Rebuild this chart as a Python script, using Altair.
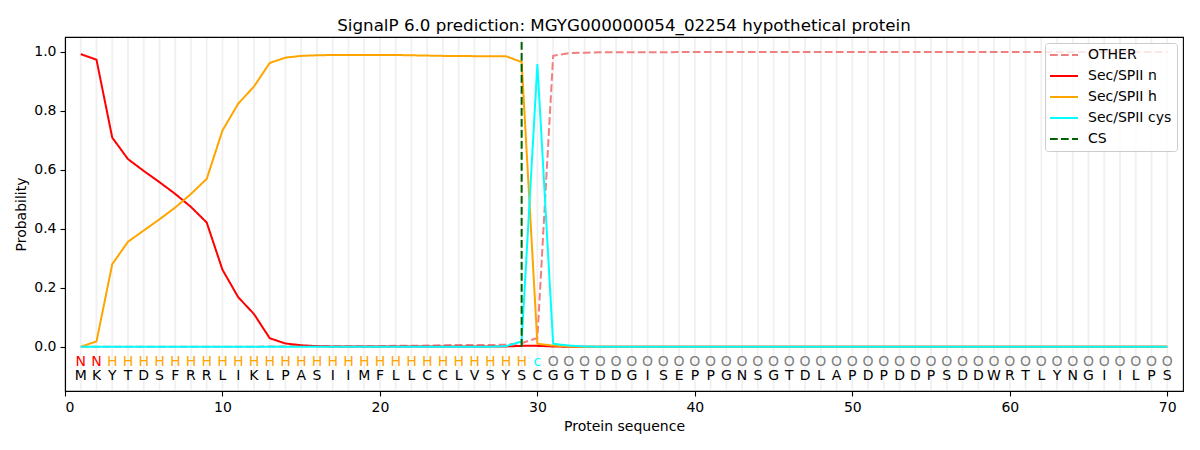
import altair as alt
import pandas as pd

# ---- data ----
positions = list(range(1, 71))
residues = list("MKYTDSFRRLIKLPASIIMFLLCCLVSYSCGGTDDGISEPPGNSGTDLAPDPDDPSDDWRTLYNGIILPS")
regions = list("NN" + "HHHHHHHHHHHHHHHHHHHHHHHHHHH" + "c" +
               "OOOOOOOOOOOOOOOOOOOOOOOOOOOOOOOOOOOOOOOO")

other = [0.000, 0.000, 0.000, 0.000, 0.000, 0.000, 0.000, 0.000, 0.000, 0.000,
         0.000, 0.000, 0.001, 0.001, 0.002, 0.002, 0.002, 0.002, 0.002, 0.002,
         0.003, 0.003, 0.004, 0.005, 0.006, 0.006, 0.006, 0.007, 0.012, 0.030,
         0.986, 0.995, 0.997, 0.998, 0.998, 0.998, 0.998, 0.998, 0.999, 0.999,
         0.999, 0.999, 0.999, 0.999, 0.999, 0.999, 0.999, 0.999, 0.999, 0.999,
         0.999, 0.999, 0.999, 0.999, 0.999, 0.999, 0.999, 0.999, 0.999, 0.999,
         0.999, 0.999, 0.999, 0.999, 0.999, 0.999, 0.999, 0.999, 0.999, 0.999]
sec_n = [0.992, 0.973, 0.709, 0.636, 0.596, 0.558, 0.518, 0.474, 0.421, 0.261,
         0.168, 0.111, 0.029, 0.011, 0.005, 0.002, 0.001, 0.001, 0.001, 0.001,
         0.001, 0.001, 0.001, 0.001, 0.001, 0.001, 0.001, 0.001, 0.003, 0.003,
         0.001, 0.000, 0.000, 0.000, 0.000, 0.000, 0.000, 0.000, 0.000, 0.000,
         0.000, 0.000, 0.000, 0.000, 0.000, 0.000, 0.000, 0.000, 0.000, 0.000,
         0.000, 0.000, 0.000, 0.000, 0.000, 0.000, 0.000, 0.000, 0.000, 0.000,
         0.000, 0.000, 0.000, 0.000, 0.000, 0.000, 0.000, 0.000, 0.000, 0.000]
sec_h = [0.000, 0.018, 0.280, 0.356, 0.394, 0.432, 0.472, 0.518, 0.569, 0.733,
         0.824, 0.882, 0.962, 0.980, 0.986, 0.988, 0.989, 0.989, 0.989, 0.989,
         0.989, 0.988, 0.987, 0.986, 0.986, 0.985, 0.985, 0.985, 0.965, 0.010,
         0.004, 0.001, 0.000, 0.000, 0.000, 0.000, 0.000, 0.000, 0.000, 0.000,
         0.000, 0.000, 0.000, 0.000, 0.000, 0.000, 0.000, 0.000, 0.000, 0.000,
         0.000, 0.000, 0.000, 0.000, 0.000, 0.000, 0.000, 0.000, 0.000, 0.000,
         0.000, 0.000, 0.000, 0.000, 0.000, 0.000, 0.000, 0.000, 0.000, 0.000]
sec_cys = [0.000, 0.000, 0.000, 0.000, 0.000, 0.000, 0.000, 0.000, 0.000, 0.000,
           0.000, 0.000, 0.000, 0.000, 0.000, 0.000, 0.000, 0.000, 0.000, 0.000,
           0.000, 0.000, 0.000, 0.000, 0.000, 0.000, 0.000, 0.002, 0.018, 0.958,
           0.010, 0.004, 0.001, 0.000, 0.000, 0.000, 0.000, 0.000, 0.000, 0.000,
           0.000, 0.000, 0.000, 0.000, 0.000, 0.000, 0.000, 0.000, 0.000, 0.000,
           0.000, 0.000, 0.000, 0.000, 0.000, 0.000, 0.000, 0.000, 0.000, 0.000,
           0.000, 0.000, 0.000, 0.000, 0.000, 0.000, 0.000, 0.000, 0.000, 0.000]
cs_position = 29
cs_top = 1.04

series_names = ["OTHER", "Sec/SPII n", "Sec/SPII h", "Sec/SPII cys", "CS"]
series_colors = ["#f08080", "#ff0000", "#ffa500", "#00ffff", "#006400"]
dash_long = [7.7, 3.3]
series_dashes = [dash_long, [1, 0], [1, 0], [1, 0], dash_long]

region_colors = {"N": "#ff0000", "H": "#ffa500", "c": "#00ffff", "O": "#808080"}

# ---- tables ----
rows = []
for name, vals in zip(series_names[:4], [other, sec_n, sec_h, sec_cys]):
    for p, v in zip(positions, vals):
        rows.append({"series": name, "pos": p, "prob": v})
lines_df = pd.DataFrame(rows)

cs_df = pd.DataFrame({"series": ["CS"], "pos": [cs_position], "y0": [0.0], "y1": [cs_top]})

REGION_ROW = -0.05
RESIDUE_ROW = -0.10
text_df = pd.DataFrame({
    "pos": positions,
    "region": regions,
    "residue": residues,
    "rcolor": [region_colors[r] for r in regions],
    "ry": [REGION_ROW] * len(positions),
    "sy": [RESIDUE_ROW] * len(positions),
})
grid_df = pd.DataFrame({"pos": positions})

W, H = 1118, 354
xscale = alt.Scale(domain=[0, 71], nice=False, zero=False)
yscale = alt.Scale(domain=[-0.15, 1.05], nice=False, zero=False)
xaxis = alt.Axis(values=list(range(0, 71, 10)), format="d", title="Protein sequence")
yaxis = alt.Axis(values=[0, 0.2, 0.4, 0.6, 0.8, 1.0], format=".1f", title="Probability")

# legend handle: a horizontal line segment, drawn 28px long with symbolSize 100
HANDLE = "M-1.4,0H4.2"

color_enc = alt.Color("series:N",
                      scale=alt.Scale(domain=series_names, range=series_colors),
                      legend=alt.Legend(title=None, symbolType=HANDLE),
                      sort=series_names)
dash_enc = alt.StrokeDash("series:N",
                          scale=alt.Scale(domain=series_names, range=series_dashes),
                          legend=alt.Legend(title=None, symbolType=HANDLE),
                          sort=series_names)

grid = alt.Chart(grid_df).mark_rule(color="#f0f0f0", strokeWidth=1.8).encode(
    x=alt.X("pos:Q", scale=xscale, axis=xaxis),
    y=alt.value(1),
    y2=alt.value(H - 1),
)

lines = alt.Chart(lines_df).mark_line(strokeWidth=2).encode(
    x=alt.X("pos:Q", scale=xscale, axis=xaxis),
    y=alt.Y("prob:Q", scale=yscale, axis=yaxis),
    color=color_enc,
    strokeDash=dash_enc,
)

cs = alt.Chart(cs_df).mark_rule(strokeWidth=2).encode(
    x=alt.X("pos:Q", scale=xscale),
    y=alt.Y("y0:Q", scale=yscale),
    y2="y1:Q",
    color=color_enc,
    strokeDash=dash_enc,
)

region_text = alt.Chart(text_df).mark_text(fontSize=14, baseline="middle").encode(
    x=alt.X("pos:Q", scale=xscale),
    y=alt.Y("ry:Q", scale=yscale),
    text="region:N",
    color=alt.Color("rcolor:N", scale=None),
)
residue_text = alt.Chart(text_df).mark_text(fontSize=14, baseline="middle", color="black").encode(
    x=alt.X("pos:Q", scale=xscale),
    y=alt.Y("sy:Q", scale=yscale),
    text="residue:N",
)

chart = alt.layer(grid, lines, cs, region_text, residue_text).properties(
    width=W,
    height=H,
    title=alt.Title("SignalP 6.0 prediction: MGYG000000054_02254 hypothetical protein",
                    fontSize=16.7, fontWeight="normal", color="black", offset=2),
    padding={"left": 6, "top": 10, "right": 5, "bottom": 5},
).configure(
    font="DejaVu Sans",
).configure_view(
    stroke="black", strokeWidth=1.1,
).configure_axis(
    domainColor="black", domainWidth=1.1, tickColor="black", tickSize=5, tickWidth=1.1,
    labelFontSize=14, labelColor="black", labelPadding=4,
    titleFontSize=14, titleFontWeight="normal", titleColor="black", titlePadding=5,
    grid=False,
).configure_legend(
    orient="top-right", offset=6, fillColor="rgba(255,255,255,0.8)",
    strokeColor="#cccccc", cornerRadius=3, padding=5,
    labelFontSize=14, labelColor="black", symbolStrokeWidth=2, symbolSize=100,
    symbolFillColor="transparent",
    rowPadding=7, labelOffset=24,
)

chart.save("out.html", embed_options={"renderer": "svg", "actions": False})
